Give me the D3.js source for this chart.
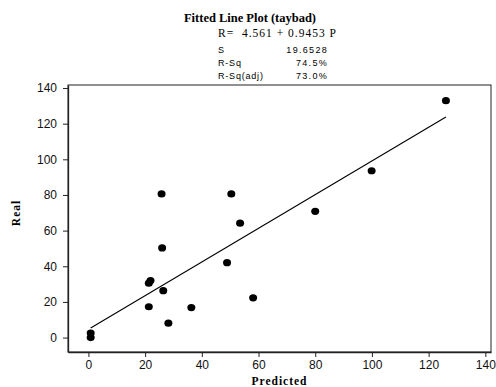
<!DOCTYPE html>
<html>
<head>
<meta charset="utf-8">
<script src="https://cdn.jsdelivr.net/npm/d3@7"></script>
<style>
  html, body { margin: 0; padding: 0; background: #fff; }
  svg { display: block; }
  text { white-space: pre; }
</style>
</head>
<body>
<svg id="chart" width="496" height="387"></svg>
<script>
const predicted = [0.8, 0.8, 21.3, 21.3, 21.9, 25.8, 26.0, 26.4, 28.2, 36.3, 48.9, 50.4, 53.5, 58.1, 80.0, 99.9, 126.1];
const real      = [0.0, 2.5, 17.3, 30.5, 32.0, 80.6, 50.3, 26.3, 8.1, 16.8, 42.0, 80.6, 64.2, 22.3, 70.8, 93.6, 132.9];
const intercept = 4.561;
const slope = 0.9453;
const xTicks = [0, 20, 40, 60, 80, 100, 120, 140];
const yTicks = [0, 20, 40, 60, 80, 100, 120, 140];
const statLabels = ["S", "R-Sq", "R-Sq(adj)"];
const statValues = ["19.6528", "74.5%", "73.0%"];

const svg = d3.select("#chart");
const L = 68, R = 491, T = 85, B = 352;

const x = d3.scaleLinear().domain([-7.2, 142.0]).range([L, R]);
const y = d3.scaleLinear().domain([-8.1, 141.7]).range([B, T]);

// frame
svg.append("rect").attr("x", L).attr("y", T).attr("width", R - L).attr("height", B - T)
  .attr("fill", "none").attr("stroke", "#222").attr("stroke-width", 1);

// axes
const xAxis = svg.append("g").attr("transform", `translate(0,${B})`)
  .call(d3.axisBottom(x).tickValues(xTicks).tickSize(5).tickSizeOuter(0).tickPadding(3).tickFormat(d3.format("d")));
const yAxis = svg.append("g").attr("transform", `translate(${L},0)`)
  .call(d3.axisLeft(y).tickValues(yTicks).tickSize(5).tickSizeOuter(0).tickPadding(6).tickFormat(d3.format("d")));
[xAxis, yAxis].forEach(g => {
  g.select(".domain").attr("stroke", "#222").attr("stroke-width", 1.3);
  g.selectAll(".tick line").attr("stroke", "#222");
  g.selectAll(".tick text").attr("font-family", "Liberation Sans, Arial, sans-serif")
    .attr("font-size", 12).attr("fill", "#111");
});

// fitted line
const xmin = d3.min(predicted), xmax = d3.max(predicted);
svg.append("line")
  .attr("x1", x(xmin)).attr("y1", y(intercept + slope * xmin))
  .attr("x2", x(xmax)).attr("y2", y(intercept + slope * xmax))
  .attr("stroke", "#000").attr("stroke-width", 1.1);

// points
svg.append("g").selectAll("ellipse").data(predicted.map((p, i) => [p, real[i]]))
  .join("ellipse")
  .attr("cx", d => x(d[0])).attr("cy", d => y(d[1]))
  .attr("rx", 4).attr("ry", 3.6).attr("fill", "#000");

// titles
svg.append("text").attr("x", 250).attr("y", 22).attr("text-anchor", "middle")
  .attr("font-family", "Liberation Serif, Times New Roman, serif").attr("font-weight", "bold")
  .attr("font-size", 12.5).attr("textLength", 132).text("Fitted Line Plot (taybad)");
svg.append("text").attr("x", 218).attr("y", 36.5)
  .attr("font-family", "Liberation Serif, Times New Roman, serif")
  .attr("font-size", 11.5).attr("textLength", 118)
  .text(`R=  ${intercept} + ${slope} P`);

const rowsY = [52.5, 66, 79];
statLabels.forEach((s, i) => {
  svg.append("text").attr("x", 218).attr("y", rowsY[i])
    .attr("font-family", "Liberation Sans, Arial, sans-serif").attr("font-size", 9)
    .attr("letter-spacing", 0.8).text(s);
  svg.append("text").attr("x", 328).attr("y", rowsY[i]).attr("text-anchor", "end")
    .attr("font-family", "Liberation Sans, Arial, sans-serif").attr("font-size", 9)
    .attr("letter-spacing", 1.3).text(statValues[i]);
});

// axis titles
svg.append("text").attr("x", (L + R) / 2).attr("y", 385).attr("text-anchor", "middle")
  .attr("font-family", "Liberation Serif, Times New Roman, serif").attr("font-weight", "bold")
  .attr("font-size", 11.5).attr("letter-spacing", 1).text("Predicted");
svg.append("text").attr("transform", "translate(20,213) rotate(-90)").attr("text-anchor", "middle")
  .attr("font-family", "Liberation Serif, Times New Roman, serif").attr("font-weight", "bold")
  .attr("font-size", 11.5).attr("letter-spacing", 1).text("Real");
</script>
</body>
</html>
